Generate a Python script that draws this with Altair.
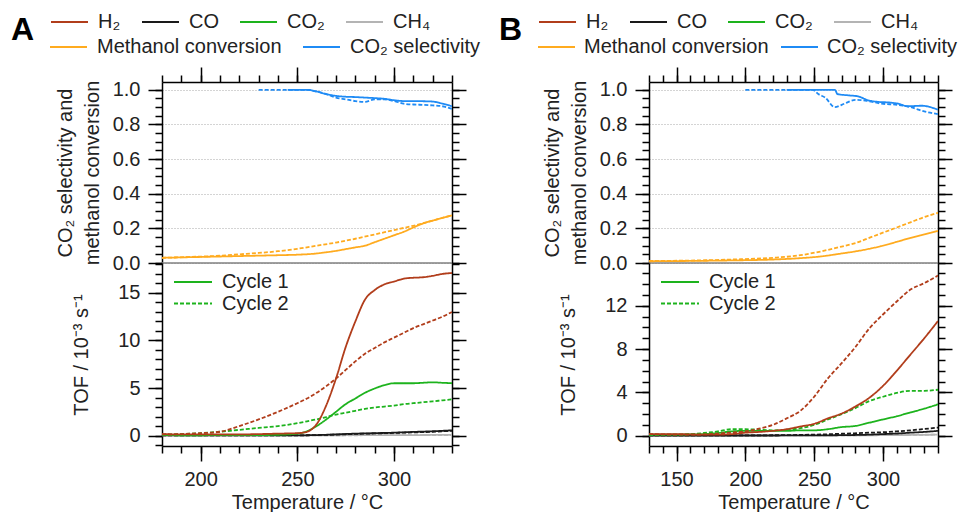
import altair as alt
import pandas as pd

FONT = "Liberation Sans"
GASES = ["H₂", "CO", "CO₂", "CH₄"]
GAS_COLORS = ["#b13d1b", "#1a1a1a", "#1db31d", "#b4b4b4"]
PERF = ["Methanol conversion", "CO₂ selectivity"]
PERF_COLORS = ["#ffab1f", "#1f8bf5"]
CYCLES = ["Cycle 1", "Cycle 2"]

# ---------------- Panel A ----------------
A_T = [180, 190, 200, 210, 220, 230, 240, 250, 255, 260, 265, 270, 275, 280,
       285, 290, 295, 300, 305, 310, 315, 320, 325, 330]
A_H2_1 = [0.15, 0.12, 0.12, 0.12, 0.12, 0.15, 0.2, 0.25, 0.4, 1.2, 3.2, 6.0, 9.3, 12.0,
          14.3, 15.3, 15.9, 16.2, 16.5, 16.6, 16.65, 16.8, 17.0, 17.1]
A_H2_2 = [0.12, 0.15, 0.25, 0.4, 1.0, 1.7, 2.5, 3.4, 3.9, 4.5, 5.2, 6.0, 6.9, 7.8,
          8.6, 9.2, 9.8, 10.3, 10.8, 11.3, 11.7, 12.1, 12.5, 13.0]
A_CO2_1 = [0.05, 0.03, 0.03, 0.05, 0.05, 0.05, 0.08, 0.2, 0.45, 1.0, 1.7, 2.5, 3.3, 3.9,
           4.5, 4.95, 5.3, 5.5, 5.5, 5.5, 5.55, 5.6, 5.55, 5.5]
A_CO2_2 = [0.1, 0.15, 0.25, 0.4, 0.6, 0.8, 1.0, 1.3, 1.5, 1.7, 1.95, 2.2, 2.4, 2.6,
           2.8, 2.95, 3.05, 3.15, 3.3, 3.4, 3.5, 3.6, 3.7, 3.8]
A_TS = [180, 250, 260, 270, 280, 290, 300, 310, 320, 330]
A_CO_1 = [0.02, 0.02, 0.05, 0.12, 0.2, 0.25, 0.3, 0.38, 0.45, 0.55]
A_CO_2 = [0.02, 0.02, 0.05, 0.1, 0.17, 0.22, 0.28, 0.33, 0.4, 0.5]
A_CH4_1 = [0.02, 0.02, 0.03, 0.03, 0.04, 0.04, 0.05, 0.05, 0.06, 0.06]
A_CH4_2 = [0.02, 0.02, 0.02, 0.03, 0.03, 0.04, 0.04, 0.05, 0.05, 0.06]

A_MEOH_T1 = [180, 200, 220, 240, 250, 260, 265, 270, 275, 280, 285, 290, 295, 300,
             305, 310, 315, 320, 325, 330]
A_MEOH_1 = [0.030, 0.035, 0.040, 0.045, 0.048, 0.055, 0.062, 0.070, 0.080, 0.090,
            0.100, 0.120, 0.140, 0.160, 0.180, 0.205, 0.228, 0.245, 0.260, 0.275]
A_MEOH_T2 = [180, 200, 210, 220, 230, 240, 250, 260, 270, 280, 290, 300, 310, 320, 330]
A_MEOH_2 = [0.030, 0.037, 0.042, 0.050, 0.058, 0.068, 0.082, 0.100, 0.118, 0.140,
            0.165, 0.190, 0.215, 0.245, 0.275]
A_SEL_T1 = [245, 255, 260, 265, 270, 275, 280, 285, 290, 295, 300, 305, 310, 315,
            320, 325, 330]
A_SEL_1 = [1.0, 1.0, 0.99, 0.975, 0.965, 0.96, 0.958, 0.955, 0.952, 0.948, 0.94,
           0.935, 0.935, 0.934, 0.932, 0.92, 0.905]
A_SEL_T2 = [230, 240, 255, 260, 265, 270, 275, 280, 285, 290, 295, 300, 305, 310,
            315, 320, 325, 330]
A_SEL_2 = [1.0, 1.0, 1.0, 0.99, 0.975, 0.955, 0.945, 0.935, 0.93, 0.945, 0.945,
           0.935, 0.92, 0.915, 0.913, 0.91, 0.905, 0.89]

# ---------------- Panel B ----------------
B_T = [130, 140, 150, 160, 170, 180, 190, 200, 210, 220, 230, 240, 250, 260, 270,
       280, 290, 300, 310, 320, 330, 340]
B_H2_1 = [0.15, 0.15, 0.15, 0.12, 0.1, 0.1, 0.15, 0.28, 0.35, 0.45, 0.6, 0.85, 1.1,
          1.6, 2.05, 2.7, 3.5, 4.6, 6.0, 7.5, 9.0, 10.6]
B_H2_2 = [0.15, 0.12, 0.1, 0.1, 0.12, 0.2, 0.3, 0.4, 0.65, 1.0, 1.6, 2.3, 3.6, 5.3,
          6.7, 8.2, 9.9, 11.2, 12.4, 13.5, 14.1, 14.8]
B_CO2_1 = [0.1, 0.1, 0.1, 0.12, 0.15, 0.25, 0.4, 0.45, 0.45, 0.45, 0.45, 0.5, 0.5,
           0.6, 0.8, 0.9, 1.2, 1.5, 1.8, 2.15, 2.5, 2.9]
B_CO2_2 = [0.05, 0.08, 0.1, 0.15, 0.25, 0.4, 0.6, 0.6, 0.55, 0.5, 0.55, 0.7, 1.0,
           1.5, 2.0, 2.55, 3.2, 3.6, 3.95, 4.15, 4.15, 4.25]
B_TS = [130, 200, 250, 270, 290, 300, 310, 320, 330, 340]
B_CO_1 = [0.02, 0.02, 0.03, 0.05, 0.1, 0.15, 0.2, 0.28, 0.35, 0.45]
B_CO_2 = [0.03, 0.03, 0.1, 0.18, 0.28, 0.32, 0.4, 0.5, 0.62, 0.75]
B_CH4_1 = [0.02, 0.02, 0.03, 0.03, 0.04, 0.05, 0.06, 0.07, 0.08, 0.1]
B_CH4_2 = [0.02, 0.02, 0.03, 0.04, 0.05, 0.06, 0.07, 0.08, 0.09, 0.1]

B_MEOH_T = [130, 160, 190, 220, 240, 255, 270, 280, 290, 300, 310, 320, 330, 340]
B_MEOH_1 = [0.010, 0.012, 0.015, 0.020, 0.028, 0.038, 0.055, 0.067, 0.082, 0.100,
            0.122, 0.145, 0.165, 0.185]
B_MEOH_2 = [0.012, 0.014, 0.020, 0.030, 0.045, 0.067, 0.095, 0.115, 0.145, 0.175,
            0.205, 0.235, 0.265, 0.290]
B_SEL_T1 = [230, 250, 265, 267, 275, 282, 289, 297, 304, 311, 318, 328, 340]
B_SEL_1 = [1.0, 1.0, 1.0, 0.975, 0.968, 0.962, 0.94, 0.93, 0.927, 0.92, 0.905, 0.908, 0.885]
B_SEL_T2 = [200, 220, 249, 253, 258, 265, 272, 280, 289, 299, 311, 320, 330, 340]
B_SEL_2 = [1.0, 1.0, 1.0, 0.975, 0.955, 0.9, 0.92, 0.942, 0.935, 0.92, 0.913, 0.9,
           0.875, 0.86]


def rows(out, series, cycle, T, V):
    for t, v in zip(T, V):
        out.append({"T": t, "v": v, "series": series, "cycle": cycle})


def build_top(meoh_t1, meoh1, meoh_t2, meoh2, sel_t1, sel1, sel_t2, sel2):
    out = []
    rows(out, "Methanol conversion", "Cycle 1", meoh_t1, meoh1)
    rows(out, "Methanol conversion", "Cycle 2", meoh_t2, meoh2)
    rows(out, "CO₂ selectivity", "Cycle 1", sel_t1, sel1)
    rows(out, "CO₂ selectivity", "Cycle 2", sel_t2, sel2)
    return pd.DataFrame(out)


def build_bottom(T, h1, h2, c21, c22, TS, co1, co2, ch1, ch2):
    out = []
    rows(out, "CH₄", "Cycle 1", TS, ch1)
    rows(out, "CH₄", "Cycle 2", TS, ch2)
    rows(out, "CO", "Cycle 1", TS, co1)
    rows(out, "CO", "Cycle 2", TS, co2)
    rows(out, "CO₂", "Cycle 1", T, c21)
    rows(out, "CO₂", "Cycle 2", T, c22)
    rows(out, "H₂", "Cycle 1", T, h1)
    rows(out, "H₂", "Cycle 2", T, h2)
    return pd.DataFrame(out)


dfA_top = build_top(A_MEOH_T1, A_MEOH_1, A_MEOH_T2, A_MEOH_2, A_SEL_T1, A_SEL_1, A_SEL_T2, A_SEL_2)
dfB_top = build_top(B_MEOH_T, B_MEOH_1, B_MEOH_T, B_MEOH_2, B_SEL_T1, B_SEL_1, B_SEL_T2, B_SEL_2)
dfA_bot = build_bottom(A_T, A_H2_1, A_H2_2, A_CO2_1, A_CO2_2, A_TS, A_CO_1, A_CO_2, A_CH4_1, A_CH4_2)
dfB_bot = build_bottom(B_T, B_H2_1, B_H2_2, B_CO2_1, B_CO2_2, B_TS, B_CO_1, B_CO_2, B_CH4_1, B_CH4_2)
EMPTY = pd.DataFrame({"T": pd.Series([], dtype=float), "v": pd.Series([], dtype=float),
                      "series": pd.Series([], dtype=str)})

DASH = alt.Scale(domain=CYCLES, range=[[1, 0], [4, 2]])
GAS_SCALE = alt.Scale(domain=GASES, range=GAS_COLORS)
PERF_SCALE = alt.Scale(domain=PERF, range=PERF_COLORS)
MAJ, MIN = 14, 7

LEG_COMMON = dict(
    orient="none", direction="horizontal", symbolType="stroke", symbolSize=1369,
    symbolStrokeWidth=2, labelFontSize=20, labelFont=FONT, labelColor="#222",
    labelLimit=400, clipHeight=24,
)


def ax(orient, values, size, **kw):
    base = dict(orient=orient, values=values, tickSize=size, labels=False,
                title=None, grid=False)
    base.update(kw)
    return alt.Axis(**base)


def frame_layers(df, xs, ys, xorient, xmin, ymaj, ymin):
    carrier = alt.Chart(df).mark_point(opacity=0)
    minor = carrier.encode(
        x=alt.X("T:Q", scale=xs, axis=ax(xorient, xmin, MIN, domain=False)),
        y=alt.Y("v:Q", scale=ys, axis=ax("left", ymin, MIN, domain=False)),
    )
    rmaj = carrier.encode(
        x=alt.X("T:Q", scale=xs, axis=None),
        y=alt.Y("v:Q", scale=ys, axis=ax("right", ymaj, MAJ)),
    )
    rmin = carrier.encode(
        x=alt.X("T:Q", scale=xs, axis=None),
        y=alt.Y("v:Q", scale=ys, axis=ax("right", ymin, MIN, domain=False)),
    )
    return [minor, rmaj, rmin]


def top_panel(df, xdom, xmaj, xmin, letter, lx, width, row2_gap, row2_offset):
    xs = alt.Scale(domain=xdom, nice=False, zero=False)
    ys = alt.Scale(domain=[0, 1.045], nice=False, zero=False)
    ymaj = [0, 0.2, 0.4, 0.6, 0.8, 1.0]
    ymin = [round(i * 0.05, 2) for i in range(0, 21)]
    gas_legend = alt.Legend(
        title=letter, titleOrient="left", titleFontSize=32, titleFontWeight="bold",
        titleFont=FONT, titleColor="#000", titleAnchor="start",
        titleBaseline="line-top", titleLineHeight=42, titlePadding=15,
        legendX=lx, legendY=-72, labelOffset=9, columnPadding=20, **LEG_COMMON,
    )
    perf_legend = alt.Legend(title=None, legendX=lx + 38, legendY=-47,
                             labelOffset=row2_offset, columnPadding=row2_gap, **LEG_COMMON)
    lines = alt.Chart(df).mark_line(strokeWidth=1.8, interpolate="monotone", clip=True).encode(
        x=alt.X("T:Q", scale=xs, axis=ax("top", xmaj, 15)),
        y=alt.Y("v:Q", scale=ys, axis=alt.Axis(
            orient="left", values=ymaj, format=".1f", tickSize=MAJ, labelPadding=8,
            title=["CO₂ selectivity and", "methanol conversion"], titlePadding=10,
            titleLineHeight=27, grid=True, gridColor="#a8a8a8", gridDash=[1, 2],
            gridWidth=1)),
        stroke=alt.Stroke("series:N", scale=PERF_SCALE, legend=perf_legend),
        strokeDash=alt.StrokeDash("cycle:N", scale=DASH, legend=None),
    )
    gas_dummy = alt.Chart(EMPTY).mark_line(strokeWidth=2).encode(
        x=alt.X("T:Q", scale=xs, axis=None),
        y=alt.Y("v:Q", scale=ys, axis=None),
        color=alt.Color("series:N", scale=GAS_SCALE, legend=gas_legend),
    )
    zero = alt.Chart(pd.DataFrame({"v": [0.0]})).mark_rule(color="#808080", strokeWidth=1.5).encode(
        y=alt.Y("v:Q", scale=ys, axis=None))
    layers = [zero, lines, gas_dummy] + frame_layers(df, xs, ys, "top", xmin, ymaj, ymin)
    return alt.layer(*layers).resolve_axis(x="independent", y="independent").properties(
        width=width, height=181)


def bottom_panel(df, xdom, xmaj, xmin, ydom, ymaj, width):
    xs = alt.Scale(domain=xdom, nice=False, zero=False)
    ys = alt.Scale(domain=ydom, nice=False, zero=False)
    ymin = list(range(-1, int(ydom[1]) + 1))
    dash_legend = alt.Legend(
        title=None, orient="none", legendX=11, legendY=9, direction="vertical",
        symbolType="stroke", symbolSize=1444, symbolStrokeWidth=2,
        symbolStrokeColor="#1db31d", labelFontSize=20, labelFont=FONT,
        labelColor="#222", labelOffset=9, rowPadding=1.5, clipHeight=20,
    )
    lines = alt.Chart(df).mark_line(strokeWidth=1.8, interpolate="monotone", clip=True).encode(
        x=alt.X("T:Q", scale=xs, axis=alt.Axis(
            orient="bottom", values=xmaj, tickSize=15, labelPadding=8,
            title="Temperature / °C", titlePadding=3, grid=False)),
        y=alt.Y("v:Q", scale=ys, axis=alt.Axis(
            orient="left", values=ymaj, tickSize=MAJ, labelPadding=8,
            title="TOF / 10⁻³ s⁻¹", titlePadding=26, grid=False)),
        color=alt.Color("series:N", scale=GAS_SCALE, legend=None),
        strokeDash=alt.StrokeDash("cycle:N", scale=DASH, legend=dash_legend),
    )
    layers = [lines] + frame_layers(df, xs, ys, "bottom", xmin, ymaj, ymin)
    return alt.layer(*layers).resolve_axis(x="independent", y="independent").properties(
        width=width, height=183)


A_XMIN = list(range(180, 331, 10))
B_XMIN = list(range(130, 341, 10))

topA = top_panel(dfA_top, [180, 330], [200, 250, 300], A_XMIN, "A", -151, 290, 20, 9)
topB = top_panel(dfB_top, [130, 340], [150, 200, 250, 300], B_XMIN, "B", -150, 289, 11, 8)
botA = bottom_panel(dfA_bot, [180, 330], [200, 250, 300], A_XMIN, [-1.1, 18.15], [0, 5, 10, 15], 290)
botB = bottom_panel(dfB_bot, [130, 340], [150, 200, 250, 300], B_XMIN, [-0.95, 15.96], [0, 4, 8, 12], 289)

chart = alt.concat(
    topA, topB, botA, botB, columns=2, spacing={"row": 0, "column": 197},
    bounds="flush", align="each",
).resolve_scale(
    color="independent", stroke="independent", strokeDash="independent"
).configure_view(stroke=None).configure_axis(
    labelFont=FONT, titleFont=FONT, labelFontSize=20, titleFontSize=20,
    labelColor="#222", titleColor="#222", tickColor="#000", domainColor="#000",
    tickWidth=1.5, domainWidth=1.5, titleFontWeight="normal",
).configure_legend(padding=0).properties(
    padding={"left": 3, "top": 2, "right": 0, "bottom": 0}, background="white"
)

chart.save("out.html", embed_options={"renderer": "svg", "actions": False})
